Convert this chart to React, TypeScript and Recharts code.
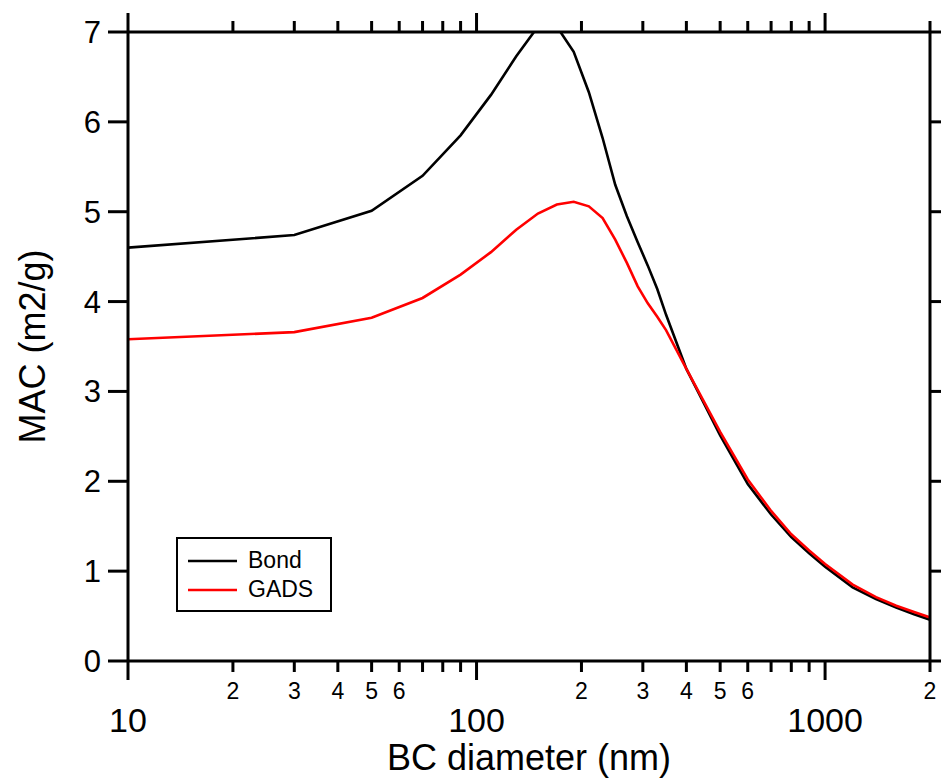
import { Label, Legend, Line, LineChart, XAxis, YAxis } from 'recharts'

// BC diameter (nm) shared by both curves
const diameters = [
  10, 30, 50, 70, 90, 110, 130, 150, 170, 190, 210, 230, 250, 270, 290, 310, 330, 350, 400, 450, 500, 600, 700,
  800, 900, 1000, 1200, 1400, 1600, 1800, 2000,
]
const bondMac = [
  4.6, 4.74, 5.01, 5.4, 5.85, 6.3, 6.73, 7.06, 7.06, 6.78, 6.33, 5.82, 5.3, 4.95, 4.66, 4.4, 4.14, 3.85, 3.25, 2.86,
  2.51, 1.97, 1.63, 1.38, 1.2, 1.05, 0.82, 0.69, 0.595, 0.52, 0.46,
]
const gadsMac = [
  3.58, 3.66, 3.82, 4.04, 4.3, 4.55, 4.8, 4.98, 5.08, 5.11, 5.06, 4.93, 4.69, 4.43, 4.17, 3.98, 3.83, 3.68, 3.25, 2.88,
  2.55, 2.02, 1.67, 1.41, 1.23, 1.08, 0.85, 0.71, 0.615, 0.545, 0.485,
]

const xTicks = [10, 20, 30, 40, 50, 60, 70, 80, 90, 100, 200, 300, 400, 500, 600, 700, 800, 900, 1000, 2000]
const xTickLabels = ['10', '2', '3', '4', '5', '6', '', '', '', '100', '2', '3', '4', '5', '6', '', '', '', '1000', '2']
const xMajor = [10, 100, 1000]
const yTicks = [0, 1, 2, 3, 4, 5, 6, 7]

const data = diameters.map((d, i) => ({ d, bond: bondMac[i], gads: gadsMac[i] }))

const FONT = '"Liberation Sans", Arial, sans-serif'
const AXIS_W = 3

function BottomTick({ x, y, payload }: any) {
  const v = payload.value
  const i = xTicks.indexOf(v)
  const major = xMajor.includes(v)
  return (
    <g>
      <line x1={x} x2={x} y1={y} y2={y + (major ? 19 : 11)} stroke="#000" strokeWidth={AXIS_W} />
      {major ? (
        <text x={x} y={y + 71} textAnchor="middle" fontSize={34} fontFamily={FONT} fill="#000">
          {xTickLabels[i]}
        </text>
      ) : (
        <text x={x} y={y + 38} textAnchor="middle" fontSize={23} fontFamily={FONT} fill="#000">
          {xTickLabels[i]}
        </text>
      )}
    </g>
  )
}

function TopTick({ x, y, payload }: any) {
  const major = xMajor.includes(payload.value)
  return <line x1={x} x2={x} y1={y} y2={y - (major ? 19 : 11)} stroke="#000" strokeWidth={AXIS_W} />
}

function LeftTick({ x, y, payload }: any) {
  return (
    <g>
      <line x1={x - 20} x2={x} y1={y} y2={y} stroke="#000" strokeWidth={AXIS_W} />
      <text x={x - 27} y={y} dy={11} textAnchor="end" fontSize={31} fontFamily={FONT} fill="#000">
        {payload.value}
      </text>
    </g>
  )
}

function RightTick({ x, y }: any) {
  return <line x1={x} x2={x + 11} y1={y} y2={y} stroke="#000" strokeWidth={AXIS_W} />
}

function LegendBox() {
  return (
    <svg width={156} height={75} style={{ display: 'block' }}>
      <rect x={1} y={1} width={154} height={73} fill="#fff" stroke="#000" strokeWidth={2} />
      <line x1={12} x2={61} y1={24} y2={24} stroke="#000" strokeWidth={2.5} />
      <text x={72} y={31} fontSize={23} fontFamily={FONT} fill="#000">
        Bond
      </text>
      <line x1={12} x2={61} y1={53} y2={53} stroke="#ff0000" strokeWidth={2.5} />
      <text x={72} y={60} fontSize={23} fontFamily={FONT} fill="#000">
        GADS
      </text>
    </svg>
  )
}

export default function App() {
  return (
    <div style={{ position: 'absolute', left: 0, top: 0 }}>
      <LineChart width={941} height={779} data={data} margin={{ top: 0, right: 0, bottom: 0, left: 48 }}>
        <XAxis
          dataKey="d"
          type="number"
          scale="log"
          domain={[10, 2000]}
          allowDataOverflow
          ticks={xTicks}
          interval={0}
          height={118}
          tickSize={0}
          tickMargin={0}
          tickLine={false}
          axisLine={{ stroke: '#000', strokeWidth: AXIS_W }}
          tick={<BottomTick />}
        >
          <Label
            content={({ viewBox }: any) => (
              <text
                x={viewBox.x + viewBox.width / 2}
                y={viewBox.y + 109}
                textAnchor="middle"
                fontSize={36}
                fontFamily={FONT}
                fill="#000"
              >
                BC diameter (nm)
              </text>
            )}
          />
        </XAxis>
        <XAxis
          xAxisId="top"
          orientation="top"
          dataKey="d"
          type="number"
          scale="log"
          domain={[10, 2000]}
          allowDataOverflow
          ticks={xTicks}
          interval={0}
          height={32}
          tickSize={0}
          tickMargin={0}
          tickLine={false}
          axisLine={{ stroke: '#000', strokeWidth: AXIS_W }}
          tick={<TopTick />}
        />
        <YAxis
          type="number"
          domain={[0, 7]}
          allowDataOverflow
          ticks={yTicks}
          interval={0}
          width={80}
          tickSize={0}
          tickMargin={0}
          tickLine={false}
          axisLine={{ stroke: '#000', strokeWidth: AXIS_W }}
          tick={<LeftTick />}
        >
          <Label
            content={({ viewBox }: any) => {
              const cx = viewBox.x - 3
              const cy = viewBox.y + viewBox.height / 2
              return (
                <text
                  x={cx}
                  y={cy}
                  transform={`rotate(-90, ${cx}, ${cy})`}
                  textAnchor="middle"
                  fontSize={36}
                  fontFamily={FONT}
                  fill="#000"
                >
                  MAC (m2/g)
                </text>
              )
            }}
          />
        </YAxis>
        <YAxis
          yAxisId="right"
          orientation="right"
          type="number"
          domain={[0, 7]}
          allowDataOverflow
          ticks={yTicks}
          interval={0}
          width={11}
          tickSize={0}
          tickMargin={0}
          tickLine={false}
          axisLine={{ stroke: '#000', strokeWidth: AXIS_W }}
          tick={<RightTick />}
        />
        <Line
          dataKey="bond"
          name="Bond"
          type="linear"
          stroke="#000"
          strokeWidth={2.6}
          dot={false}
          isAnimationActive={false}
        />
        <Line
          dataKey="gads"
          name="GADS"
          type="linear"
          stroke="#ff0000"
          strokeWidth={2.6}
          dot={false}
          isAnimationActive={false}
        />
        <Legend
          layout="horizontal"
          verticalAlign="middle"
          align="center"
          content={() => <LegendBox />}
          wrapperStyle={{ position: 'absolute', left: 176, top: 537, width: 156, height: 75 }}
        />
      </LineChart>
    </div>
  )
}
